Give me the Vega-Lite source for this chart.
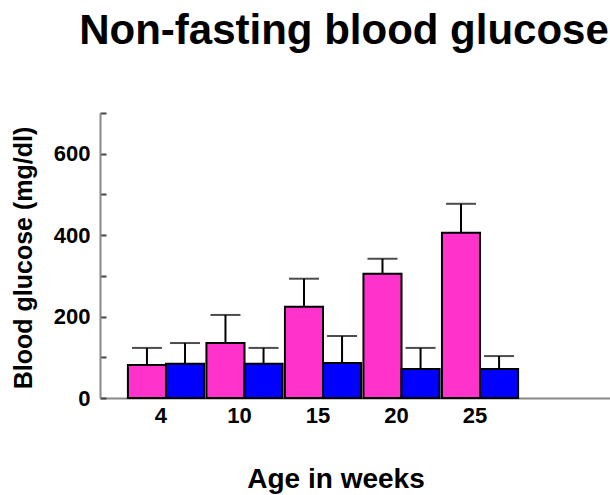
{
  "$schema": "https://vega.github.io/schema/vega-lite/v6.json",
  "width": 510,
  "height": 285,
  "autosize": {"type": "none"},
  "padding": {"left": 100, "top": 113, "right": 0, "bottom": 97},
  "background": "white",
  "title": {
    "text": "Non-fasting blood glucose",
    "font": "Liberation Sans",
    "fontSize": 42,
    "fontWeight": "bold",
    "color": "black",
    "anchor": "middle",
    "frame": "group",
    "baseline": "alphabetic",
    "offset": 26,
    "dx": -11
  },
  "config": {"view": {"stroke": null}, "font": "Liberation Sans"},
  "data": {
    "values": [
      {"week": "4", "group": "Group 1", "mean": 81, "upper": 123},
      {"week": "4", "group": "Group 2", "mean": 84, "upper": 135},
      {"week": "10", "group": "Group 1", "mean": 135, "upper": 204},
      {"week": "10", "group": "Group 2", "mean": 84, "upper": 123},
      {"week": "15", "group": "Group 1", "mean": 224, "upper": 293},
      {"week": "15", "group": "Group 2", "mean": 86, "upper": 152},
      {"week": "20", "group": "Group 1", "mean": 305, "upper": 342},
      {"week": "20", "group": "Group 2", "mean": 71, "upper": 123},
      {"week": "25", "group": "Group 1", "mean": 406, "upper": 477},
      {"week": "25", "group": "Group 2", "mean": 71, "upper": 103}
    ]
  },
  "encoding": {
    "x": {
      "field": "week",
      "type": "ordinal",
      "sort": ["4", "10", "15", "20", "25"],
      "scale": {"paddingInner": 0.03, "paddingOuter": 0.763, "align": 0.233},
      "axis": {
        "title": "Age in weeks",
        "labelAngle": 0,
        "ticks": false,
        "labelPadding": 7,
        "labelFontSize": 22,
        "labelFontWeight": "bold",
        "labelColor": "black",
        "labelOffset": -5,
        "domainColor": "#888888",
        "domainWidth": 2,
        "titleFontSize": 28,
        "titleFontWeight": "bold",
        "titleColor": "black",
        "titleX": 235.5,
        "titleY": 89,
        "titleBaseline": "alphabetic",
        "titleAlign": "center"
      }
    },
    "xOffset": {
      "field": "group",
      "type": "nominal",
      "sort": ["Group 1", "Group 2"],
      "scale": {"paddingInner": 0, "paddingOuter": 0}
    },
    "y": {
      "field": "mean",
      "type": "quantitative",
      "scale": {"domain": [0, 700], "nice": false},
      "axis": {
        "title": "Blood glucose (mg/dl)",
        "values": [0, 100, 200, 300, 400, 500, 600, 700],
        "labelExpr": "datum.value % 200 == 0 ? datum.label : ''",
        "tickSize": -6,
        "tickWidth": 2,
        "tickColor": "#444444",
        "domainColor": "#888888",
        "domainWidth": 2,
        "labelPadding": 16,
        "labelFontSize": 22,
        "labelFontWeight": "bold",
        "labelColor": "black",
        "titleFontSize": 25,
        "titleFontWeight": "bold",
        "titleColor": "black",
        "titleX": -69,
        "titleY": 144.5,
        "titleBaseline": "alphabetic",
        "titleAlign": "center",
        "grid": false
      }
    }
  },
  "layer": [
    {
      "mark": {"type": "bar", "stroke": "black", "strokeWidth": 2},
      "encoding": {
        "color": {
          "field": "group",
          "type": "nominal",
          "scale": {"domain": ["Group 1", "Group 2"], "range": ["#FF33CC", "#0000FF"]},
          "legend": null
        }
      }
    },
    {
      "mark": {"type": "rule", "color": "black", "strokeWidth": 2},
      "encoding": {"y2": {"field": "upper"}}
    },
    {
      "mark": {"type": "tick", "color": "black", "thickness": 2, "size": 30},
      "encoding": {"y": {"field": "upper", "type": "quantitative"}}
    }
  ]
}
